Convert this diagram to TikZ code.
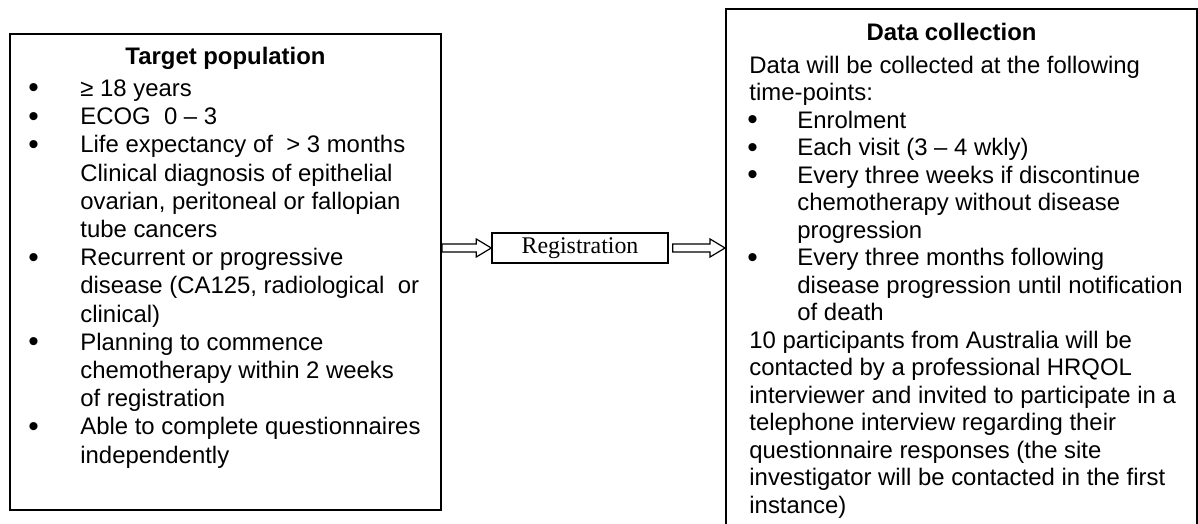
\documentclass[tikz,border=0pt]{standalone}
\usepackage{fontspec}
\setmainfont{Liberation Sans}
\newfontfamily\serifreg{Liberation Serif}
\usetikzlibrary{positioning,calc}

\newlength\bulwd
\newlength\bulshift
\newcommand\bl{\makebox[\bulwd][l]{\hspace*{\bulshift}\raisebox{-0.06em}{\scalebox{1.25}{\textbullet}}}}
\newcommand\cl{\hspace*{\bulwd}}
% open (hollow) arrow: #1 tail, #2 tip, #3 node that gives the height
\newcommand\hollowarrow[3]{%
  \draw[arrowline] let \p1=(#1), \p2=(#2), \p3=(#3) in
    (\x1,{\y3+2pt}) -- ({\x2-7.5pt},{\y3+2pt}) -- ({\x2-7.5pt},{\y3+4.5pt})
    -- (\x2,\y3) -- ({\x2-7.5pt},{\y3-4.5pt}) -- ({\x2-7.5pt},{\y3-2pt})
    -- (\x1,{\y3-2pt}) -- cycle;}

\begin{document}
\begin{tikzpicture}[x=0.5pt,y=-0.5pt,
  panel/.style={draw,line width=1pt,inner sep=0pt,anchor=north west},
  regbox/.style={draw,line width=0.7pt,minimum width=88pt,minimum height=15pt,
    inner sep=0pt,font=\serifreg\fontsize{11.95pt}{14pt}\selectfont},
  heading/.style={anchor=base,inner sep=0pt,font=\bfseries\fontsize{11.95pt}{14pt}\selectfont},
  listtext/.style={anchor=north west,inner sep=0pt,align=left},
  arrowline/.style={line width=0.6pt,line join=miter}]
\useasboundingbox (0,0) rectangle (1198,524);
\clip (0,0) rectangle (1198,524);

% the three boxes
\node[panel,minimum width=215.5pt,minimum height=238pt] (tp) at (9,33) {};
\node[panel,minimum width=235.5pt,minimum height=272pt] (dc) at (725,8) {};
\node[regbox] (reg) at (580,248) {Registration};

% target population
\node[heading] (tphead) at ($(tp.north)+(0,32)$) {Target population};
\node[listtext,font={\fontsize{11.95pt}{14.1pt}\selectfont\setlength\bulwd{26pt}\setlength\bulshift{0pt}}]
  (tplist) at ($(tp.north west)+(19,43)$) {%
  \rule{0pt}{10pt}\bl≥ 18 years\\
  \bl ECOG\ \ 0 – 3\\
  \bl Life expectancy of\ \ > 3 months\\
  \cl Clinical diagnosis of epithelial\\
  \cl ovarian, peritoneal or fallopian\\
  \cl tube cancers\\
  \bl Recurrent or progressive\\
  \cl disease (CA125, radiological\ \ or\\
  \cl clinical)\\
  \bl Planning to commence\\
  \cl chemotherapy within 2 weeks\\
  \cl of registration\\
  \bl Able to complete questionnaires\\
  \cl independently};

% data collection
\node[heading] (dchead) at ($(dc.north)+(-10,33)$) {Data collection};
\node[listtext,font={\fontsize{11.95pt}{13.75pt}\selectfont\setlength\bulwd{24pt}\setlength\bulshift{-1pt}}]
  (dclist) at ($(dc.north west)+(24,45)$) {%
  \rule{0pt}{10pt}Data will be collected at the following\\
  time-points:\\
  \bl Enrolment\\
  \bl Each visit (3 – 4 wkly)\\
  \bl Every three weeks if discontinue\\
  \cl chemotherapy without disease\\
  \cl progression\\
  \bl Every three months following\\
  \cl disease progression until notification\\
  \cl of death\\
  10 participants from Australia will be\\
  contacted by a professional HRQOL\\
  interviewer and invited to participate in a\\
  telephone interview regarding their\\
  questionnaire responses (the site\\
  investigator will be contacted in the first\\
  instance)};

% arrows
\hollowarrow{tp.east}{reg.west}{reg}
\hollowarrow{$(reg.east)+(4,0)$}{dc.west}{reg}
\end{tikzpicture}
\end{document}
